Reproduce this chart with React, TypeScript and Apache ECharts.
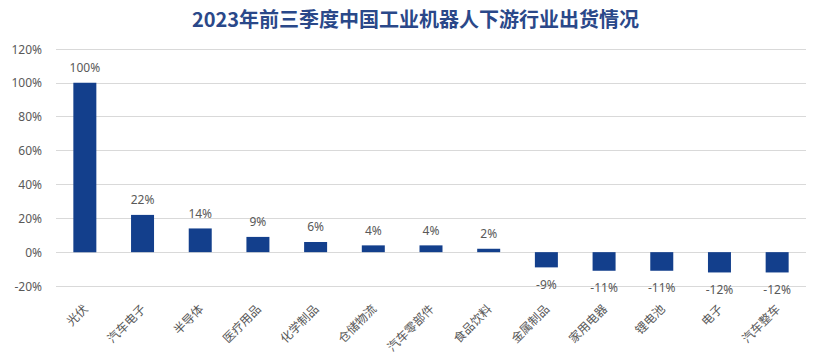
import React, { useEffect, useRef } from "react";
import * as echarts from "echarts";

const categories = ["光伏", "汽车电子", "半导体", "医疗用品", "化学制品", "仓储物流", "汽车零部件", "食品饮料", "金属制品", "家用电器", "锂电池", "电子", "汽车整车"];
const values = [100, 22, 14, 9, 6, 4, 4, 2, -9, -11, -11, -12, -12];
const titleText = "2023年前三季度中国工业机器人下游行业出货情况";

export default function App() {
  const ref = useRef<HTMLDivElement>(null);
  useEffect(() => {
    const chart = echarts.init(ref.current!, null, { renderer: "svg" });
    chart.setOption({
      animation: false,
      backgroundColor: "#ffffff",
      title: {
        text: titleText,
        left: "center",
        top: 3,
        textStyle: { color: "#2a4889", fontSize: 20, fontWeight: "bold", fontFamily: "Noto Sans CJK SC" },
      },
      grid: { left: 56, right: 25, top: 49, bottom: 75, containLabel: false },
      xAxis: {
        type: "category",
        data: categories,
        axisLine: { show: false, onZero: false },
        axisTick: { show: false },
        axisLabel: {
          rotate: 45,
          interval: 0,
          color: "#595959",
          fontSize: 12,
          margin: 20,
          fontFamily: "Noto Sans CJK SC",
        },
      },
      yAxis: {
        type: "value",
        min: -20,
        max: 120,
        interval: 20,
        axisLine: { show: false },
        axisTick: { show: false },
        axisLabel: { formatter: "{value}%", color: "#595959", fontSize: 12, margin: 14, fontFamily: "Noto Sans" },
        splitLine: { lineStyle: { color: "#d9d9d9" } },
      },
      series: [
        {
          type: "bar",
          data: values.map((v) => ({
            value: v,
            label: { position: v >= 0 ? "top" : "bottom", distance: v >= 0 ? 9 : 11 },
          })),
          barWidth: 23,
          itemStyle: { color: "#133f8c" },
          label: {
            show: true,
            formatter: "{c}%",
            color: "#595959",
            fontSize: 12,
            fontFamily: "Noto Sans",
          },
        },
      ],
    });
    return () => chart.dispose();
  }, []);
  return <div ref={ref} style={{ position: "fixed", left: 0, top: 0, width: 831, height: 361 }} />;
}
